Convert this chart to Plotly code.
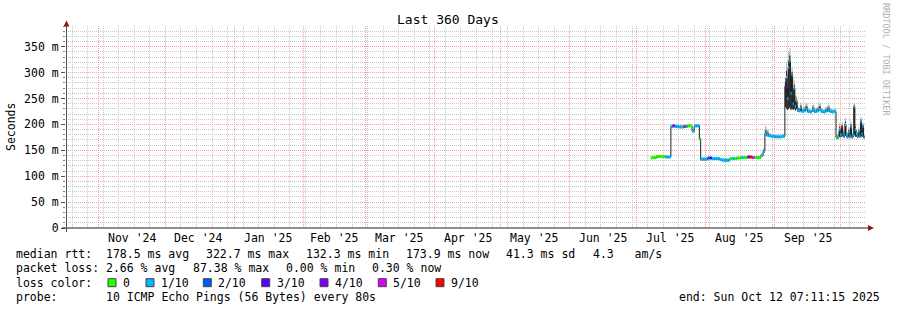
import plotly.graph_objects as go
import pandas as pd

# ---------------- data ----------------
START = pd.Timestamp("2024-10-17 07:11:15")
END = pd.Timestamp("2025-10-12 07:11:15")
BASE = pd.Timestamp("2025-07-01 00:00:00")

# sample times, in days after 2025-07-01
day_offset = [6.5, 7, 8, 9, 10, 11, 12, 13, 14, 15.5, 16.3, 17.3, 18, 19, 20, 21.3, 22, 23, 24, 25,
              26, 27, 28.3, 28.9, 30, 31, 32, 33, 34, 35, 36, 37.5, 38.5, 39.5, 40.5, 42, 43, 44, 45, 46,
              47, 48, 49, 50, 51, 52, 53, 54, 55, 56, 57, 57.8, 58.5, 59.5, 60.5, 61.5, 62.5, 63.5, 64.5, 65.5,
              66.8, 67.3, 67.8, 68.3, 68.8, 69.3, 69.8, 70.3, 70.8, 71.3, 71.8, 72.3, 73, 73.7, 74.3, 75, 76, 77, 78, 79,
              80, 81, 82, 83, 84, 85, 86, 87, 88, 89, 89.8, 90.5, 91.2, 91.7, 92.3, 92.8, 93.3, 93.8, 94.3, 94.8,
              95.3, 95.8, 96.3, 96.8, 97.3, 97.8, 98.3, 98.8, 99.3, 99.8, 100.3, 100.8, 101.3, 101.8, 102.2, 102.6]
median_ms = [135, 136, 136, 138, 138, 138, 138, 137, 137, 196, 197, 196, 196, 195, 195, 196, 196, 197, 197, 187,
             197, 197, 172, 133, 133, 133, 135, 135, 134, 134, 134, 132, 131, 131, 131, 134, 134, 134, 135, 135,
             136, 136, 136, 137, 137, 136, 136, 136, 136, 140, 148, 182, 180, 178, 177, 177, 176, 176, 176, 177,
             273, 290, 250, 310, 322, 260, 295, 240, 270, 235, 245, 228, 226, 232, 225, 226, 229, 225, 224, 228,
             225, 226, 229, 225, 224, 226, 228, 225, 224, 225, 174, 176, 190, 180, 195, 182, 178, 200, 180, 176,
             185, 178, 195, 176, 180, 234, 190, 182, 178, 186, 178, 205, 182, 196, 176, 174]
lost_pings = [0, 0, 0, 0, 0, 0, 0, 1, 1, 1, 4, 1, 1, 1, 1, 9, 1, 0, 0, 1,
              1, 1, 0, 1, 1, 1, 2, 3, 1, 1, 1, 1, 1, 1, 1, 0, 1, 0, 0, 0,
              1, 0, 0, 3, 9, 5, 0, 0, 0, 1, 1, 1, 1, 1, 1, 1, 1, 1, 1, 1,
              3, 1, 1, 1, 1, 1, 1, 1, 1, 1, 1, 1, 1, 1, 1, 1, 1, 1, 1, 1,
              1, 1, 1, 1, 1, 1, 1, 1, 1, 1, 0, 1, 1, 1, 9, 1, 1, 1, 1, 1,
              1, 1, 1, 1, 1, 1, 1, 1, 1, 1, 1, 1, 1, 1, 1, 1]
smoke_up = [3, 3, 3, 3, 3, 3, 3, 3, 3, 4, 4, 4, 4, 4, 4, 4, 4, 4, 4, 4,
            4, 4, 4, 3, 3, 3, 3, 3, 3, 3, 3, 3, 3, 3, 3, 3, 3, 3, 3, 3,
            3, 3, 3, 3, 3, 3, 3, 3, 3, 4, 6, 14, 10, 5, 4, 4, 4, 4, 4, 5,
            17, 30, 45, 30, 25, 40, 15, 30, 15, 20, 10, 8, 6, 10, 5, 8, 12, 6, 5, 10,
            6, 8, 12, 6, 5, 8, 10, 6, 5, 6, 4, 8, 12, 8, 10, 8, 6, 12, 6, 5,
            10, 6, 12, 5, 6, 8, 10, 6, 5, 8, 6, 10, 6, 8, 4, 3]
smoke_down = [2, 2, 2, 2, 2, 2, 2, 2, 2, 2, 2, 2, 2, 2, 2, 2, 2, 2, 2, 2,
              2, 2, 2, 2, 2, 2, 2, 2, 2, 2, 2, 2, 2, 2, 2, 2, 2, 2, 2, 2,
              2, 2, 2, 2, 2, 2, 2, 2, 2, 2, 2, 3, 3, 2, 2, 2, 2, 2, 2, 2,
              40, 60, 22, 80, 90, 32, 65, 12, 40, 8, 15, 3, 2, 5, 2, 2, 3, 2, 2, 3,
              2, 2, 3, 2, 2, 2, 3, 2, 2, 2, 2, 3, 14, 5, 18, 6, 4, 22, 5, 3,
              9, 4, 18, 3, 5, 55, 14, 6, 4, 10, 4, 28, 6, 20, 3, 2]

loss_codes = [0, 1, 2, 3, 4, 5, 9]
loss_labels = ["0", "1/10", "2/10", "3/10", "4/10", "5/10", "9/10"]
loss_colors = ["#26ff00", "#00b8ff", "#0059ff", "#5e00ff", "#7e00ff", "#dd00ff", "#ff0000"]

month_grid = ["2024-11-01", "2024-12-01", "2025-01-01", "2025-02-01", "2025-03-01", "2025-04-01",
              "2025-05-01", "2025-06-01", "2025-07-01", "2025-08-01", "2025-09-01", "2025-10-01"]
month_label_at = ["2024-11-16", "2024-12-16", "2025-01-16", "2025-02-15", "2025-03-16", "2025-04-16",
                  "2025-05-16", "2025-06-16", "2025-07-16", "2025-08-16", "2025-09-16"]
month_labels = ["Nov '24", "Dec '24", "Jan '25", "Feb '25", "Mar '25", "Apr '25",
                "May '25", "Jun '25", "Jul '25", "Aug '25", "Sep '25"]
y_tickvals = [0, 50, 100, 150, 200, 250, 300, 350]
y_ticktext = ["0", "50 m", "100 m", "150 m", "200 m", "250 m", "300 m", "350 m"]

stats_rows = [
    [("median rtt:  178.5 ms avg", 16), ("322.7 ms max", 206.4), ("132.3 ms min", 306.4),
     ("173.9 ms now", 406.4), ("41.3 ms sd", 506.4), ("4.3   am/s", 592.5)],
    [("packet loss: 2.66 % avg", 16), ("87.38 % max", 192.5), ("0.00 % min", 285.6),
     ("0.30 % now", 371.7)],
    [("loss color:", 16)],
    [("probe:       10 ICMP Echo Pings (56 Bytes) every 80s", 16),
     ("end: Sun Oct 12 07:11:15 2025", 678.5)],
]
row_y = [254.3, 268.3, 282.7, 296.7]
legend_box_x = [108, 146, 203.3, 261.7, 320, 378.3, 436]

# ---------------- geometry helpers ----------------
L, T, W, H = 66, 26, 800, 202
FONT = "DejaVu Sans Mono"


def px(x):
    return (x - L) / W


def py(y):
    return (T + H - y) / H


times = [BASE + pd.Timedelta(days=d) for d in day_offset]
lo = [m - d for m, d in zip(median_ms, smoke_down)]
hi = [m + u for m, u in zip(median_ms, smoke_up)]
dark_hi = [m + 0.45 * u for m, u in zip(median_ms, smoke_up)]

fig = go.Figure()

# smoke (outer light band)
fig.add_trace(go.Scatter(x=times, y=lo, mode="lines", line=dict(width=0, shape="hv"),
                         hoverinfo="skip", showlegend=False))
fig.add_trace(go.Scatter(x=times, y=hi, mode="lines", line=dict(width=0, shape="hv"),
                         fill="tonexty", fillcolor="#b8b8b8", hoverinfo="skip", showlegend=False))
# smoke (inner dark band)
fig.add_trace(go.Scatter(x=times, y=lo, mode="lines", line=dict(width=0, shape="hv"),
                         hoverinfo="skip", showlegend=False))
fig.add_trace(go.Scatter(x=times, y=dark_hi, mode="lines", line=dict(width=0, shape="hv"),
                         fill="tonexty", fillcolor="#303030", hoverinfo="skip", showlegend=False))

# thin dark median line
fig.add_trace(go.Scatter(x=times, y=median_ms, mode="lines", line=dict(width=1, color="#202020", shape="hv"),
                         hoverinfo="skip", showlegend=False))

# thick loss-coloured median segments
for code, color in zip(loss_codes, loss_colors):
    xs, ys = [], []
    for i in range(len(times) - 1):
        if lost_pings[i] == code:
            xs += [times[i], times[i + 1], None]
            ys += [median_ms[i], median_ms[i], None]
    if xs:
        fig.add_trace(go.Scatter(x=xs, y=ys, mode="lines", line=dict(width=3, color=color),
                                 hoverinfo="skip", showlegend=False, connectgaps=False))

annotations = []
shapes = []

# title, axis title, watermark
annotations.append(dict(text="Last 360 Days", x=px(448), y=py(20), xref="paper", yref="paper",
                        showarrow=False, font=dict(family=FONT, size=13, color="#000"),
                        xanchor="center", yanchor="middle"))
annotations.append(dict(text="Seconds", x=px(11), y=py(127), xref="paper", yref="paper",
                        showarrow=False, textangle=-90, font=dict(family=FONT, size=11.5, color="#000"),
                        xanchor="center", yanchor="middle"))
annotations.append(dict(text="RRDTOOL / TOBI OETIKER", x=px(886), y=py(60), xref="paper", yref="paper",
                        showarrow=False, textangle=90, font=dict(family=FONT, size=8.5, color="#b0b0b0"),
                        xanchor="center", yanchor="middle"))

# month labels
for d, lab in zip(month_label_at, month_labels):
    annotations.append(dict(text=lab, x=d, y=py(237.5), xref="x", yref="paper", showarrow=False,
                            font=dict(family=FONT, size=11.5, color="#000"), xanchor="center", yanchor="middle"))

# stats rows
for row, yy in zip(stats_rows, row_y):
    for txt, xx in row:
        annotations.append(dict(text=txt.replace(" ", "&nbsp;"), x=px(xx - 2), y=py(yy), xref="paper", yref="paper",
                                showarrow=False, font=dict(family=FONT, size=11.5, color="#000"),
                                xanchor="left", yanchor="middle"))

# loss colour legend
for bx, lab, col in zip(legend_box_x, loss_labels, loss_colors):
    shapes.append(dict(type="rect", xref="paper", yref="paper", x0=px(bx), x1=px(bx + 8),
                       y0=py(row_y[2] + 4), y1=py(row_y[2] - 4), fillcolor=col,
                       line=dict(color="#404040", width=1)))
    annotations.append(dict(text=lab.replace(" ", "&nbsp;"), x=px(bx + 15 - 2), y=py(row_y[2]), xref="paper",
                            yref="paper", showarrow=False, font=dict(family=FONT, size=11.5, color="#000"),
                            xanchor="left", yanchor="middle"))

# axis lines and arrows
shapes.append(dict(type="line", xref="paper", yref="paper", x0=px(62), x1=px(869), y0=py(228), y1=py(228),
                   line=dict(color="#202020", width=1.2)))
shapes.append(dict(type="line", xref="paper", yref="paper", x0=px(66.5), x1=px(66.5), y0=py(232), y1=py(24),
                   line=dict(color="#505050", width=1)))
shapes.append(dict(type="path", xref="paper", yref="paper",
                   path=f"M {px(63.5)} {py(26.5)} L {px(69.5)} {py(26.5)} L {px(66.5)} {py(20.5)} Z",
                   fillcolor="#8b1a1a", line=dict(width=0)))
shapes.append(dict(type="path", xref="paper", yref="paper",
                   path=f"M {px(868)} {py(225)} L {px(868)} {py(231)} L {px(874)} {py(228)} Z",
                   fillcolor="#8b1a1a", line=dict(width=0)))

fig.update_layout(
    width=897, height=310,
    margin=dict(l=L, r=897 - L - W, t=T, b=310 - T - H),
    paper_bgcolor="white", plot_bgcolor="white",
    showlegend=False,
    annotations=annotations,
    shapes=shapes,
    xaxis=dict(
        type="date", range=[START, END], tickvals=month_grid, showticklabels=False,
        showgrid=True, gridcolor="#f4a0a0", griddash="1px,1px", gridwidth=1,
        ticks="", zeroline=False, showline=False, fixedrange=True,
        minor=dict(dtick=7 * 24 * 3600 * 1000, tick0="2024-10-20", showgrid=True,
                   gridcolor="#c8c8c8", griddash="1px,1px", gridwidth=1),
    ),
    yaxis=dict(
        range=[0, 390], tickvals=y_tickvals, ticktext=y_ticktext,
        showgrid=True, gridcolor="#f4a0a0", griddash="1px,1px", gridwidth=1,
        ticks="outside", ticklen=4, tickcolor="#505050", zeroline=False, showline=False,
        tickfont=dict(family=FONT, size=11.5, color="#000"), fixedrange=True,
        minor=dict(dtick=10, showgrid=True, gridcolor="#c8c8c8", griddash="1px,1px", gridwidth=1,
                   ticks="outside", ticklen=2, tickcolor="#808080"),
    ),
)

fig.write_html("out.html")
